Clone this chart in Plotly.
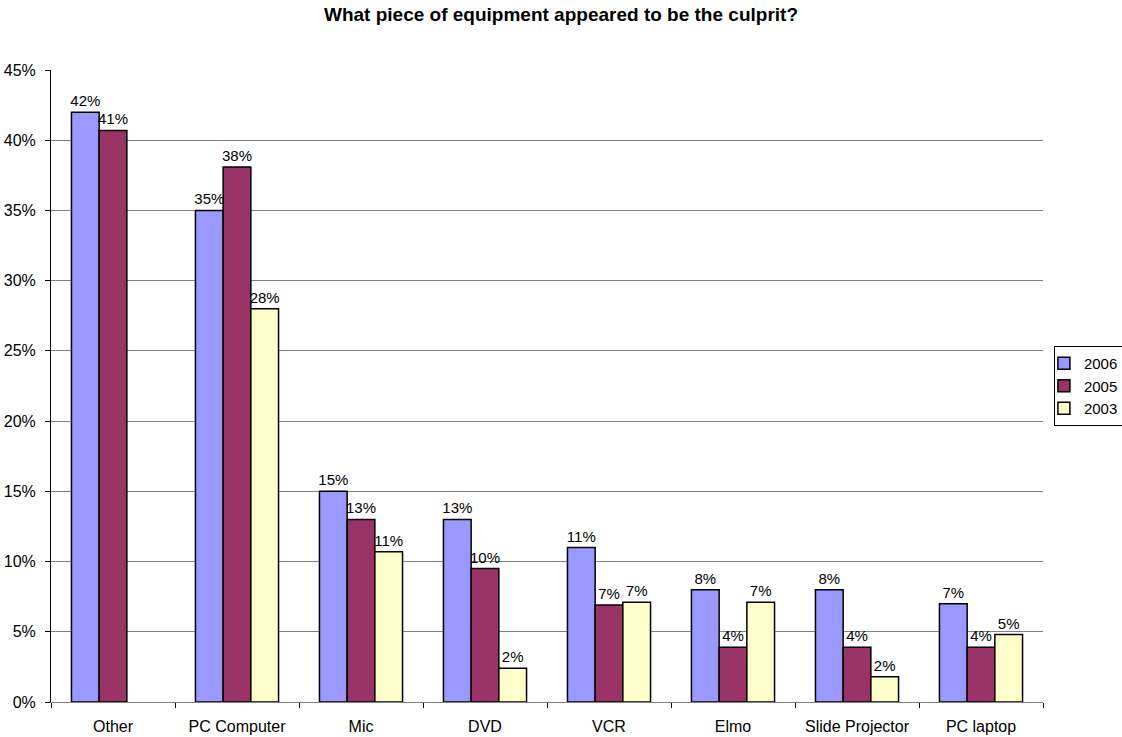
import plotly.graph_objects as go

categories = ["Other", "PC Computer", "Mic", "DVD", "VCR", "Elmo",
              "Slide Projector", "PC laptop"]
series_names = ["2006", "2005", "2003"]
values_2006 = [0.42, 0.35, 0.15, 0.13, 0.11, 0.08, 0.08, 0.07]
values_2005 = [0.407, 0.381, 0.13, 0.095, 0.069, 0.039, 0.039, 0.039]
values_2003 = [None, 0.28, 0.107, 0.024, 0.071, 0.071, 0.018, 0.048]
colors = ["#9999FF", "#993366", "#FFFFCC"]
y_ticks = [0, 0.05, 0.10, 0.15, 0.20, 0.25, 0.30, 0.35, 0.40, 0.45]

FAMILY = "Arial, Liberation Sans, sans-serif"
axis_font = dict(family=FAMILY, size=16, color="black")
label_font = dict(family=FAMILY, size=15, color="black")

fig = go.Figure()
for name, vals, col in zip(series_names, [values_2006, values_2005, values_2003], colors):
    fig.add_trace(go.Bar(
        x=categories, y=vals, name=name,
        marker=dict(color=col, line=dict(color="black", width=1.5)),
        texttemplate="%{y:.0%}", textposition="outside",
        textfont=label_font, cliponaxis=False, constraintext="none",
    ))

fig.update_layout(
    barmode="group", bargap=0.33, bargroupgap=0,
    width=1122, height=737,
    margin=dict(l=51, r=79, t=70, b=35, autoexpand=False),
    paper_bgcolor="white", plot_bgcolor="white",
    font=axis_font,
    uniformtext=dict(mode=False),
    title=dict(text="<b>What piece of equipment appeared to be the culprit?</b>",
               x=0.5, xref="container", xanchor="center",
               y=1 - 14 / 737, yanchor="middle",
               font=dict(family=FAMILY, size=19, color="black")),
    legend=dict(x=1.011, y=0.5, xanchor="left", yanchor="middle",
                bordercolor="black", borderwidth=1, bgcolor="white",
                font=dict(family=FAMILY, size=15, color="black"),
                itemwidth=30, indentation=-11, tracegroupgap=0),
    yaxis=dict(range=[0, 0.45], tickvals=y_ticks, tickformat=".0%",
               showgrid=True, gridcolor="#808080", gridwidth=1,
               showline=True, linecolor="black", linewidth=1,
               ticks="outside", ticklen=5, tickcolor="black",
               ticklabelstandoff=6,
               zeroline=False, fixedrange=True),
    xaxis=dict(showline=True, linecolor="#808080", linewidth=1,
               ticks="outside", tickson="boundaries", ticklen=5, tickcolor="black",
               ticklabelstandoff=10,
               showgrid=False, fixedrange=True),
    showlegend=True,
)

fig.write_html("out.html")
